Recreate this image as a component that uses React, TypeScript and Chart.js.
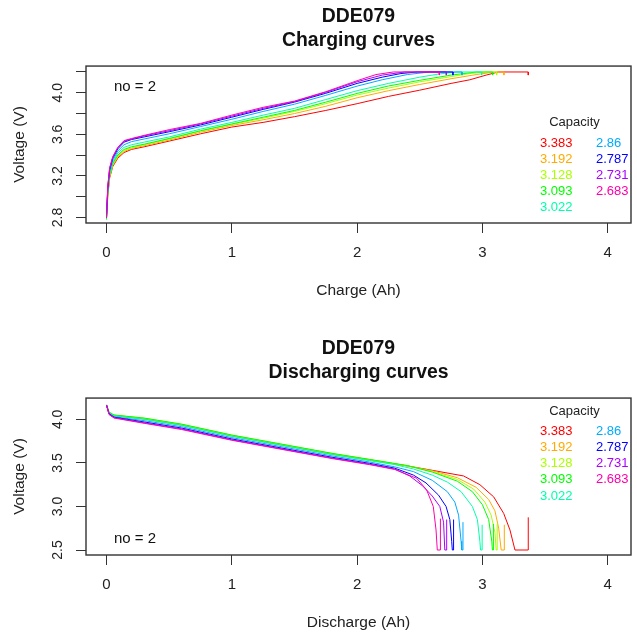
import React, { useEffect, useRef } from 'react';
import { Chart, registerables } from 'chart.js';

Chart.register(...registerables);

const FONT = '"Liberation Sans", Arial, Helvetica, sans-serif';

// Legend labels (capacity, Ah) and R rainbow(9) colours
const capacities = ['3.383', '3.192', '3.128', '3.093', '3.022', '2.86', '2.787', '2.731', '2.683'];
const colors = ['#FF0000', '#FFAA00', '#AAFF00', '#00FF00', '#00FFAA', '#00AAFF', '#0000FF', '#AA00FF', '#FF00AA'];

// Axis ticks
const xTicks = [0, 1, 2, 3, 4];
const chgYTicks = [2.8, 3.0, 3.2, 3.4, 3.6, 3.8, 4.0, 4.2];
const chgYLabeled = [2.8, 3.2, 3.6, 4.0];
const dchYTicks = [2.5, 3.0, 3.5, 4.0];
const dchYLabeled = [2.5, 3.0, 3.5, 4.0];

// ---- Charging curves: [charge (Ah), voltage (V)] ----
const chg3383 = [[0, 2.79], [0.01, 3.0], [0.025, 3.18], [0.05, 3.29], [0.09, 3.37], [0.14, 3.425], [0.2, 3.455], [0.3, 3.48], [0.5, 3.535], [0.75, 3.605], [1.0, 3.67], [1.25, 3.715], [1.5, 3.77], [1.75, 3.83], [2.0, 3.895], [2.25, 3.965], [2.5, 4.025], [2.75, 4.09], [2.9, 4.125], [3.03, 4.17], [3.127, 4.2], [3.366, 4.2], [3.366, 4.17]];
const chg3192 = [[0, 2.79], [0.01, 3.02], [0.025, 3.19], [0.05, 3.3], [0.09, 3.38], [0.14, 3.435], [0.2, 3.465], [0.3, 3.49], [0.5, 3.545], [0.75, 3.62], [1.0, 3.685], [1.25, 3.74], [1.5, 3.8], [1.75, 3.87], [2.0, 3.952], [2.25, 4.02], [2.5, 4.08], [2.75, 4.135], [2.95, 4.175], [3.1, 4.2], [3.172, 4.2], [3.172, 4.17]];
const chg3128 = [[0, 2.79], [0.01, 3.03], [0.025, 3.2], [0.05, 3.31], [0.09, 3.39], [0.14, 3.445], [0.2, 3.47], [0.3, 3.5], [0.5, 3.555], [0.75, 3.63], [1.0, 3.695], [1.25, 3.755], [1.5, 3.82], [1.75, 3.895], [2.0, 3.978], [2.25, 4.045], [2.5, 4.105], [2.75, 4.155], [2.9, 4.185], [3.03, 4.2], [3.114, 4.2], [3.114, 4.17]];
const chg3093 = [[0, 2.78], [0.01, 3.04], [0.025, 3.21], [0.05, 3.32], [0.09, 3.4], [0.14, 3.455], [0.2, 3.48], [0.3, 3.505], [0.5, 3.56], [0.75, 3.635], [1.0, 3.7], [1.25, 3.765], [1.5, 3.83], [1.75, 3.91], [2.0, 3.994], [2.25, 4.065], [2.5, 4.12], [2.75, 4.17], [2.955, 4.2], [3.082, 4.2], [3.082, 4.17]];
const chg3022 = [[0, 2.79], [0.01, 3.05], [0.025, 3.22], [0.05, 3.33], [0.09, 3.42], [0.14, 3.475], [0.2, 3.5], [0.3, 3.525], [0.5, 3.575], [0.75, 3.65], [1.0, 3.715], [1.25, 3.785], [1.5, 3.85], [1.75, 3.935], [2.0, 4.02], [2.25, 4.09], [2.5, 4.15], [2.65, 4.18], [2.795, 4.2], [2.994, 4.2], [2.994, 4.17]];
const chg2860 = [[0, 2.8], [0.01, 3.07], [0.025, 3.24], [0.05, 3.35], [0.09, 3.44], [0.14, 3.5], [0.2, 3.53], [0.3, 3.555], [0.5, 3.605], [0.75, 3.675], [1.0, 3.745], [1.25, 3.82], [1.5, 3.89], [1.75, 3.975], [2.0, 4.064], [2.2, 4.125], [2.4, 4.175], [2.58, 4.2], [2.837, 4.2], [2.837, 4.17]];
const chg2787 = [[0, 2.8], [0.01, 3.08], [0.025, 3.26], [0.05, 3.37], [0.09, 3.46], [0.14, 3.525], [0.2, 3.55], [0.3, 3.575], [0.5, 3.625], [0.75, 3.69], [1.0, 3.765], [1.25, 3.84], [1.5, 3.91], [1.75, 3.995], [2.0, 4.09], [2.2, 4.15], [2.35, 4.185], [2.48, 4.2], [2.765, 4.2], [2.765, 4.17]];
const chg2731 = [[0, 2.8], [0.01, 3.09], [0.025, 3.27], [0.05, 3.38], [0.09, 3.47], [0.14, 3.535], [0.2, 3.555], [0.3, 3.585], [0.5, 3.635], [0.75, 3.7], [1.0, 3.775], [1.25, 3.85], [1.5, 3.915], [1.75, 4.005], [2.0, 4.106], [2.2, 4.17], [2.38, 4.2], [2.712, 4.2], [2.712, 4.17]];
const chg2683 = [[0, 2.8], [0.01, 3.1], [0.025, 3.28], [0.05, 3.385], [0.09, 3.475], [0.14, 3.54], [0.2, 3.56], [0.3, 3.59], [0.5, 3.645], [0.75, 3.705], [1.0, 3.785], [1.25, 3.86], [1.5, 3.92], [1.75, 4.01], [2.0, 4.116], [2.15, 4.175], [2.29, 4.2], [2.656, 4.2], [2.656, 4.17]];

// ---- Discharging curves: [discharge (Ah), voltage (V)] ----
const dch3383 = [[0, 4.165], [0.02, 4.08], [0.06, 4.045], [0.3, 4.005], [0.6, 3.935], [1.0, 3.81], [1.4, 3.705], [1.8, 3.6], [2.1, 3.535], [2.4, 3.465], [2.6, 3.415], [2.85, 3.35], [2.98, 3.25], [3.09, 3.11], [3.17, 2.92], [3.22, 2.73], [3.26, 2.5], [3.366, 2.5], [3.366, 2.875]];
const dch3192 = [[0, 4.165], [0.02, 4.08], [0.06, 4.048], [0.3, 4.01], [0.6, 3.94], [1.0, 3.815], [1.4, 3.71], [1.8, 3.605], [2.1, 3.537], [2.4, 3.465], [2.6, 3.41], [2.8, 3.33], [2.95, 3.22], [3.05, 3.08], [3.1, 2.95], [3.13, 2.75], [3.15, 2.5], [3.175, 2.5], [3.175, 2.79]];
const dch3128 = [[0, 4.165], [0.02, 4.08], [0.06, 4.048], [0.3, 4.012], [0.6, 3.942], [1.0, 3.817], [1.4, 3.712], [1.8, 3.607], [2.1, 3.538], [2.4, 3.467], [2.6, 3.4], [2.8, 3.31], [2.93, 3.2], [3.02, 3.05], [3.07, 2.9], [3.1, 2.7], [3.11, 2.5], [3.118, 2.5], [3.118, 2.8]];
const dch3093 = [[0, 4.165], [0.02, 4.08], [0.06, 4.05], [0.3, 4.015], [0.6, 3.945], [1.0, 3.82], [1.4, 3.715], [1.8, 3.61], [2.1, 3.54], [2.4, 3.47], [2.6, 3.395], [2.8, 3.29], [2.92, 3.17], [3.0, 3.02], [3.05, 2.85], [3.075, 2.6], [3.08, 2.5], [3.088, 2.5], [3.088, 2.8]];
const dch3022 = [[0, 4.165], [0.02, 4.075], [0.06, 4.04], [0.3, 4.0], [0.6, 3.93], [1.0, 3.805], [1.4, 3.7], [1.8, 3.595], [2.1, 3.525], [2.3, 3.48], [2.45, 3.43], [2.6, 3.36], [2.72, 3.28], [2.83, 3.17], [2.92, 3.0], [2.96, 2.85], [2.98, 2.6], [2.985, 2.5], [2.998, 2.5], [2.998, 2.79]];
const dch2860 = [[0, 4.165], [0.02, 4.07], [0.06, 4.03], [0.3, 3.985], [0.6, 3.915], [1.0, 3.79], [1.4, 3.685], [1.8, 3.58], [2.1, 3.51], [2.3, 3.455], [2.45, 3.4], [2.6, 3.3], [2.72, 3.17], [2.78, 3.05], [2.81, 2.9], [2.83, 2.6], [2.835, 2.5], [2.845, 2.5], [2.845, 2.82]];
const dch2787 = [[0, 4.165], [0.02, 4.065], [0.06, 4.025], [0.3, 3.97], [0.6, 3.9], [1.0, 3.775], [1.4, 3.67], [1.8, 3.565], [2.1, 3.495], [2.3, 3.44], [2.45, 3.36], [2.55, 3.27], [2.65, 3.13], [2.71, 3.0], [2.74, 2.85], [2.755, 2.6], [2.76, 2.5], [2.77, 2.5], [2.77, 2.85]];
const dch2731 = [[0, 4.165], [0.02, 4.06], [0.06, 4.02], [0.3, 3.96], [0.6, 3.89], [1.0, 3.765], [1.4, 3.66], [1.8, 3.555], [2.1, 3.485], [2.3, 3.43], [2.42, 3.35], [2.52, 3.24], [2.6, 3.12], [2.66, 3.0], [2.69, 2.82], [2.7, 2.5], [2.715, 2.5], [2.715, 2.85]];
const dch2683 = [[0, 4.165], [0.02, 4.055], [0.06, 4.015], [0.3, 3.955], [0.6, 3.883], [1.0, 3.76], [1.4, 3.655], [1.8, 3.55], [2.1, 3.48], [2.3, 3.425], [2.476, 3.323], [2.555, 3.19], [2.608, 3.0], [2.63, 2.73], [2.64, 2.5], [2.665, 2.5], [2.665, 2.86]];

const chargeSeries = [chg3383, chg3192, chg3128, chg3093, chg3022, chg2860, chg2787, chg2731, chg2683];
const dischargeSeries = [dch3383, dch3192, dch3128, dch3093, dch3022, dch2860, dch2787, dch2731, dch2683];

const framePlugin = {
  id: 'frame',
  afterDraw(chart: any, _args: any, opts: any) {
    const { ctx, chartArea: a } = chart;
    ctx.save();
    ctx.strokeStyle = '#333';
    ctx.lineWidth = 1.4;
    ctx.strokeRect(a.left, a.top, a.right - a.left, a.bottom - a.top);

    ctx.fillStyle = '#111';
    ctx.textBaseline = 'middle';
    ctx.textAlign = 'left';
    ctx.font = `15px ${FONT}`;
    ctx.fillText(opts.note, opts.noteX, opts.noteY);

    ctx.font = `13px ${FONT}`;
    ctx.textAlign = 'center';
    ctx.fillStyle = '#222';
    ctx.fillText(opts.legendTitle, opts.legendTitleX, opts.legendTop);
    ctx.textAlign = 'left';
    const labels: string[] = opts.labels;
    labels.forEach((lab, i) => {
      const col = i < 5 ? 0 : 1;
      const row = i < 5 ? i : i - 5;
      ctx.fillStyle = opts.colors[i];
      ctx.fillText(lab, col === 0 ? opts.col1X : opts.col2X, opts.legendTop + 20.6 + row * 16.1);
    });
    ctx.restore();
  },
};

type Params = {
  series: number[][][];
  title2: string;
  xTitle: string;
  yMin: number;
  yMax: number;
  yTicks: number[];
  yLabeled: number[];
  noteY: number;
  legendTop: number;
};

function buildConfig(p: Params): any {
  const tickFont = { family: FONT, size: 15 };
  const titleFont = { family: FONT, size: 15.5 };
  return {
    type: 'scatter',
    data: {
      datasets: p.series.map((pts, i) => ({
        label: capacities[i],
        data: pts.map(([x, y]) => ({ x, y })),
        borderColor: colors[i],
        backgroundColor: colors[i],
        borderWidth: 1,
        pointRadius: 0,
        showLine: true,
        tension: 0,
        fill: false,
        order: 8 - i,
      })),
    },
    options: {
      responsive: false,
      animation: false,
      devicePixelRatio: 1,
      layout: { padding: { left: 0, right: 6, top: 0, bottom: 0 } },
      plugins: {
        legend: { display: false },
        tooltip: { enabled: false },
        title: {
          display: true,
          text: ['DDE079', p.title2],
          fullSize: false,
          color: '#111',
          font: { family: FONT, size: 19.4, weight: 'bold', lineHeight: 1.2 },
          padding: { top: 5.4, bottom: 14.1 },
        },
        frame: {
          note: 'no = 2',
          noteX: 114,
          noteY: p.noteY,
          legendTitle: 'Capacity',
          legendTitleX: 574.5,
          legendTop: p.legendTop,
          col1X: 540,
          col2X: 596,
          labels: capacities,
          colors,
        },
      },
      scales: {
        x: {
          type: 'linear',
          position: 'bottom',
          min: -0.1636,
          max: 4.186,
          afterBuildTicks: (s: any) => {
            s.ticks = xTicks.map((v) => ({ value: v }));
          },
          afterFit: (s: any) => {
            s.height = 110;
          },
          grid: { display: true, drawOnChartArea: false, drawTicks: true, tickLength: 10, tickColor: '#333', tickWidth: 1 },
          border: { display: false },
          ticks: {
            font: tickFont,
            color: '#222',
            padding: 11,
            maxRotation: 0,
            minRotation: 0,
            autoSkip: false,
            callback: (v: number) => String(v),
          },
          title: { display: true, text: p.xTitle, color: '#222', font: titleFont, padding: { top: 0, bottom: 32.5 } },
        },
        y: {
          type: 'linear',
          position: 'left',
          min: p.yMin,
          max: p.yMax,
          afterBuildTicks: (s: any) => {
            s.ticks = p.yTicks.map((v) => ({ value: v }));
          },
          afterFit: (s: any) => {
            s.width = 86;
          },
          grid: { display: true, drawOnChartArea: false, drawTicks: true, tickLength: 10, tickColor: '#333', tickWidth: 1 },
          border: { display: false },
          ticks: {
            font: { family: FONT, size: 14 },
            color: '#222',
            padding: 8.3,
            minRotation: 90,
            maxRotation: 90,
            crossAlign: 'center',
            autoSkip: false,
            callback: (v: number) => (p.yLabeled.includes(v) ? v.toFixed(1) : ''),
          },
          title: { display: true, text: 'Voltage (V)', color: '#222', font: titleFont, padding: { top: 10.7, bottom: 0 } },
        },
      },
    },
    plugins: [framePlugin],
  };
}

export default function App() {
  const topRef = useRef<HTMLCanvasElement>(null);
  const botRef = useRef<HTMLCanvasElement>(null);

  useEffect(() => {
    document.body.style.margin = '0';
    const c1 = new Chart(
      topRef.current as HTMLCanvasElement,
      buildConfig({
        series: chargeSeries,
        title2: 'Charging curves',
        xTitle: 'Charge (Ah)',
        yMin: 2.747,
        yMax: 4.257,
        yTicks: chgYTicks,
        yLabeled: chgYLabeled,
        noteY: 87.3,
        legendTop: 122.7,
      })
    );
    const c2 = new Chart(
      botRef.current as HTMLCanvasElement,
      buildConfig({
        series: dischargeSeries,
        title2: 'Discharging curves',
        xTitle: 'Discharge (Ah)',
        yMin: 2.4426,
        yMax: 4.2445,
        yTicks: dchYTicks,
        yLabeled: dchYLabeled,
        noteY: 207.3,
        legendTop: 79,
      })
    );
    return () => {
      c1.destroy();
      c2.destroy();
    };
  }, []);

  return (
    <div style={{ position: 'relative', width: 637, height: 633, overflow: 'hidden', background: '#fff' }}>
      <div style={{ position: 'absolute', left: 0, top: 0, width: 637, height: 333 }}>
        <canvas ref={topRef} width={637} height={333} style={{ display: 'block' }} />
      </div>
      <div style={{ position: 'absolute', left: 0, top: 332, width: 637, height: 333 }}>
        <canvas ref={botRef} width={637} height={333} style={{ display: 'block' }} />
      </div>
    </div>
  );
}
